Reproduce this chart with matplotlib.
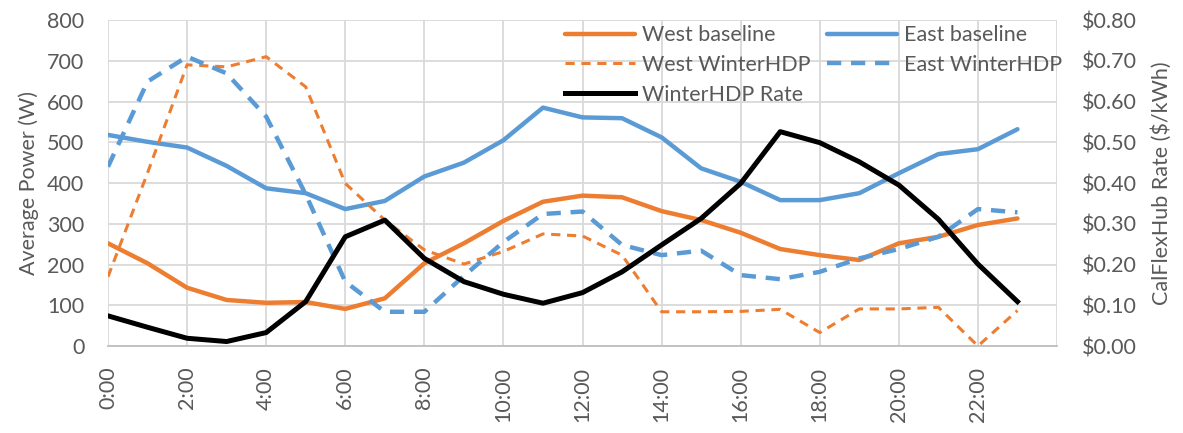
import matplotlib
matplotlib.use("Agg")
import matplotlib.pyplot as plt
from matplotlib.ticker import FixedLocator, FuncFormatter

plt.rcParams['font.family'] = ['Lato', 'DejaVu Sans']

hours = list(range(24))
tick_hours = list(range(0, 24, 2))
tick_labels = [f"{h}:00" for h in tick_hours]

west_baseline = [252, 203, 143, 113, 106, 108, 91, 117, 203, 252, 307, 354, 369, 365,
                 331, 309, 278, 238, 223, 211, 252, 268, 297, 313]
east_baseline = [518, 501, 487, 442, 387, 375, 336, 356, 416, 450, 505, 585, 561, 559,
                 512, 436, 403, 358, 358, 375, 424, 471, 483, 532]
west_winter = [170, 425, 690, 685, 710, 636, 399, 309, 236, 201, 232, 275, 270, 223,
               84, 84, 85, 90, 33, 91, 91, 95, 0, 87]
east_winter = [440, 649, 710, 669, 563, 372, 158, 84, 84, 172, 255, 324, 330, 248,
               223, 234, 174, 164, 182, 215, 238, 268, 336, 328]
rate = [0.074, 0.046, 0.019, 0.011, 0.033, 0.109, 0.268, 0.309, 0.215, 0.158, 0.127,
        0.105, 0.131, 0.182, 0.248, 0.313, 0.399, 0.526, 0.499, 0.452, 0.395, 0.311,
        0.201, 0.109]

ORANGE = "#ED7D31"
BLUE = "#5B9BD5"
GRAY_TXT = "#595959"
GRID = "#D9D9D9"

fig = plt.figure(figsize=(11.83, 4.33), dpi=100)
ax = fig.add_axes([0.0913, 0.2009, 0.8022, 0.7529])
ax2 = ax.twinx()

l1, = ax.plot(hours, west_baseline, color=ORANGE, lw=3.2, solid_capstyle='round',
              label="West baseline")
l2, = ax.plot(hours, east_baseline, color=BLUE, lw=3.2, solid_capstyle='round',
              label="East baseline")
l3, = ax.plot(hours, west_winter, color=ORANGE, lw=2.2, dashes=(3, 2.2),
              label="West WinterHDP")
l4, = ax.plot(hours, east_winter, color=BLUE, lw=3.2, dashes=(3.2, 2.2),
              label="East WinterHDP")
l5, = ax2.plot(hours, rate, color="black", lw=3.6, label="WinterHDP Rate")

ax.set_xlim(0, 24)
ax.set_ylim(0, 800)
ax2.set_ylim(0, 0.8)
ax.set_yticks(range(0, 801, 100))
ax2.set_yticks([i / 100 for i in range(0, 81, 10)])
ax2.yaxis.set_major_formatter(FuncFormatter(lambda v, p: f"${v:.2f}"))
ax.set_xticks(tick_hours)
ax.set_xticklabels(tick_labels, rotation=90)
ax.xaxis.set_minor_locator(FixedLocator([24]))

ax.grid(True, which='both', color=GRID, lw=1.3)
ax.set_axisbelow(True)
for a in (ax, ax2):
    for s in a.spines.values():
        s.set_visible(False)
ax.spines['bottom'].set_visible(True)
ax.spines['bottom'].set_color("#BFBFBF")
ax.spines['bottom'].set_linewidth(1.3)

ax.tick_params(axis='both', which='both', length=0, labelsize=15.5, colors=GRAY_TXT)
ax.tick_params(axis='y', pad=17)
ax.tick_params(axis='x', pad=15)
ax2.tick_params(axis='y', length=0, labelsize=15.5, colors=GRAY_TXT, pad=18)

ax.set_ylabel("Average Power (W)", fontsize=15.5, color=GRAY_TXT, labelpad=6)
ax2.set_ylabel("CalFlexHub Rate ($/kWh)", fontsize=15.5, color=GRAY_TXT, labelpad=10)

leg = ax.legend(handles=[l1, l3, l5, l2, l4], ncol=2, loc='upper left',
                bbox_to_anchor=(0.475, 1.004), frameon=False, fontsize=15.5,
                labelcolor=GRAY_TXT, handlelength=3.25, handletextpad=0.33,
                columnspacing=0.74, labelspacing=0.45, borderaxespad=0,
                borderpad=0.3)
leg.set_zorder(5)

fig.savefig("out.png", dpi=100)
